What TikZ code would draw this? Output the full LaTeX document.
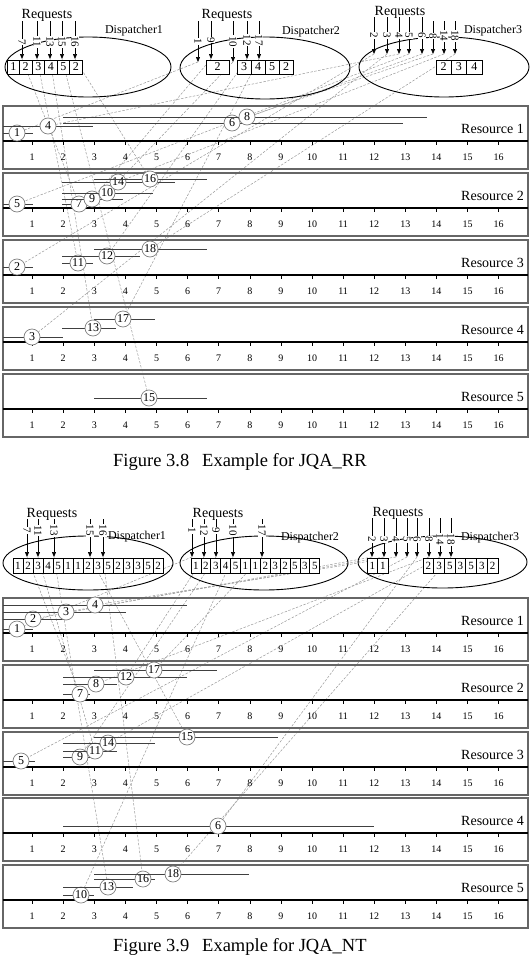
\documentclass[tikz,border=0pt]{standalone}
\usepackage{fontspec}
\setmainfont{Liberation Serif}
\usetikzlibrary{shapes.geometric,arrows.meta,backgrounds}

\begin{document}
\begin{tikzpicture}[
  x=1pt, y=-1pt,
  disp/.style={ellipse, draw=black, line width=0.9pt, inner sep=0pt},
  cell/.style={rectangle, draw=black, line width=0.7pt, fill=white,
               inner sep=0pt, minimum height=14pt, font=\fontsize{12}{12}\selectfont},
  req/.style={-{Triangle[length=5pt,width=4pt]}, line width=0.7pt},
  rlab/.style={fill=white, rotate=-90, inner sep=0.6pt, font=\fontsize{11}{11}\selectfont},
  job/.style={circle, draw=gray, line width=0.7pt, fill=white, inner sep=0pt,
              minimum size=16pt, font=\fontsize{12}{12}\selectfont},
  bar/.style={draw=black!75, line width=0.8pt},
  link/.style={draw=gray!80, dash pattern=on 2.5pt off 1.5pt, line width=0.5pt},
  panel/.style={draw=black!60, line width=1.1pt},
  tline/.style={line width=2.6pt},
  tnum/.style={font=\fontsize{10}{10}\selectfont, inner sep=0pt},
  res/.style={font=\fontsize{14}{14}\selectfont, inner sep=0pt, anchor=east},
  hdr/.style={font=\fontsize{14}{14}\selectfont, inner sep=0pt},
  dlab/.style={font=\fontsize{12}{12}\selectfont, inner sep=0pt},
  figcap/.style={font=\fontsize{18.5}{18.5}\selectfont, inner sep=0pt, anchor=west}
]
\useasboundingbox (0,0) rectangle (532,969);

% ---------- Figure 3.8 ----------
\node[disp, minimum width=166pt, minimum height=60pt] (d1) at (88,67) {};
\node[disp, minimum width=170pt, minimum height=62pt] (d2) at (265,68) {};
\node[disp, minimum width=170pt, minimum height=60pt] (d3) at (444,67) {};
\node[hdr] (h1) at (47,15) {Requests};
\node[hdr] (h2) at (227,15) {Requests};
\node[hdr] (h3) at (400,12) {Requests};
\node[dlab] (l1) at (134,31) {Dispatcher1};
\node[dlab] (l2) at (311,32) {Dispatcher2};
\node[dlab] (l3) at (493,31) {Dispatcher3};

\foreach \n/\x/\a/\b/\p in {7/22/21/59/0.55, 11/37/21/59/0.55, 13/50/21/59/0.55,
    15/62/21/59/0.55, 16/75/21/59/0.55,
    1/198/21/62/0.5, 9/211/21/59/0.5, 10/233/21/62/0.5, 12/247/21/59/0.5, 17/259/21/59/0.5,
    2/374/17/54/0.5, 3/387/17/54/0.5, 4/399/17/54/0.5, 5/409/17/54/0.5, 6/422/17/54/0.5,
    8/433/21/54/0.45, 14/444/21/54/0.45, 18/455/21/54/0.45}
{
  \coordinate (ra\n) at (\x,\b);
  \draw[req] (\x,\a) -- node[rlab, pos=\p] (na\n) {\n} (ra\n);
}

\foreach \v [count=\i] in {1,2,3,4,5,2}
  \node[cell, minimum width=12.5pt] (qa1-\i) at (0.75+12.5*\i,67) {\v};
\node[cell, minimum width=23pt] (qa2s) at (217.5,67) {2};
\foreach \v [count=\i] in {3,4,5,2}
  \node[cell, minimum width=14pt] (qa2-\i) at (230+14*\i,67) {\v};
\foreach \v [count=\i] in {2,3,4}
  \node[cell, minimum width=15.3pt] (qa3-\i) at (428.35+15.3*\i,67) {\v};

\foreach \ty [count=\k] in {106,173,240,307,374} {
  \draw[panel] (3,\ty) rectangle (528,\ty+63);
  \draw[tline] (3,\ty+35) -- (528,\ty+35);
  \foreach \t in {1,...,16} {
    \draw[line width=0.6pt] (1+31.1*\t,\ty+35) -- ++(0,4);
    \node[tnum] (ta\k-\t) at (1+31.1*\t,\ty+51) {\t};
  }
  \node[res] (ra-r\k) at (524,\ty+23) {Resource \k};
}

\foreach \n/\x/\y/\s/\e in {
    1/17/133/3/33, 4/48/126/3/93, 6/232/123/63/403, 8/247/117/63/427,
    5/17/204/3/33, 7/79/204/62/90, 9/92/199/62/123, 10/107/193/62/153,
    14/118/182/62/175, 16/150/179/94/207,
    2/17/267/3/33, 11/78/263/62/93, 12/107/256/62/140, 18/150/249/94/207,
    3/32/337/3/63, 13/93/328/62/116, 17/123/319/94/155,
    15/149/398/94/207}
{
  \draw[bar] (\s,\y) -- (\e,\y);
  \node[job] (a\n) at (\x,\y) {\n};
}

\node[figcap] (c1a) at (113,462) {Figure 3.8};
\node[figcap] (c1b) at (202,462) {Example for JQA\_RR};

% ---------- Figure 3.9 ----------
\node[disp, minimum width=170pt, minimum height=54pt] (d4) at (88,563) {};
\node[disp, minimum width=168pt, minimum height=54pt] (d5) at (264,563) {};
\node[disp, minimum width=169pt, minimum height=52pt] (d6) at (442.5,562) {};
\node[hdr] (h4) at (52,514) {Requests};
\node[hdr] (h5) at (218,514) {Requests};
\node[hdr] (h6) at (398,513) {Requests};
\node[dlab] (l4) at (137,537) {Dispatcher1};
\node[dlab] (l5) at (310,538) {Dispatcher2};
\node[dlab] (l6) at (490,538) {Dispatcher3};

\foreach \n/\x/\a/\b/\p in {7/27/519/557/0.3, 11/38/519/557/0.3, 13/54/519/557/0.3,
    15/90/519/557/0.3, 16/103/519/557/0.3,
    1/192/519/557/0.3, 12/204/519/557/0.3, 9/216/519/557/0.3, 10/233/519/557/0.3,
    17/262/519/557/0.3,
    2/372/518/557/0.55, 3/384/518/557/0.55, 4/396/518/557/0.55, 5/407/518/557/0.55,
    6/417/518/557/0.55, 8/429/518/557/0.55, 14/440/518/557/0.55, 18/451/518/557/0.55}
{
  \coordinate (rb\n) at (\x,\b);
  \draw[req] (\x,\a) -- node[rlab, pos=\p] (nb\n) {\n} (rb\n);
}

\foreach \v [count=\i] in {1,2,3,4,5,1,1,2,3,5,2,3,3,5,2}
  \node[cell, minimum width=10pt, minimum height=15pt, font=\fontsize{11}{11}\selectfont]
    (qb1-\i) at (8+10*\i,565.5) {\v};
\foreach \v [count=\i] in {1,2,3,4,5,1,1,2,3,2,5,3,5}
  \node[cell, minimum width=9.9pt, minimum height=15pt, font=\fontsize{11}{11}\selectfont]
    (qb2-\i) at (186.05+9.9*\i,565.5) {\v};
\foreach \v [count=\i] in {1,1}
  \node[cell, minimum width=10.5pt, minimum height=15pt, font=\fontsize{11}{11}\selectfont]
    (qb3s-\i) at (361.75+10.5*\i,565.5) {\v};
\foreach \v [count=\i] in {2,3,5,3,5,3,2}
  \node[cell, minimum width=10.7pt, minimum height=15pt, font=\fontsize{11}{11}\selectfont]
    (qb3-\i) at (417.65+10.7*\i,565.5) {\v};

\foreach \ty [count=\k] in {598,665,732,798,865} {
  \draw[panel] (3,\ty) rectangle (528,\ty+63);
  \draw[tline] (3,\ty+35) -- (528,\ty+35);
  \foreach \t in {1,...,16} {
    \draw[line width=0.6pt] (1+31.1*\t,\ty+35) -- ++(0,4);
    \node[tnum] (tb\k-\t) at (1+31.1*\t,\ty+51) {\t};
  }
  \node[res] (rb-r\k) at (524,\ty+23) {Resource \k};
}

\foreach \n/\x/\y/\s/\e in {
    1/17/629/3/33, 2/33/619/3/63, 3/66/612/3/126, 4/95/605/3/187,
    7/80/694/63/90, 8/96/684/63/117, 12/126/677/63/187, 17/154/670/94/217,
    5/21/761/3/35, 9/80/757/63/90, 11/95/751/63/117, 14/108/743/63/155,
    15/187/737/94/278,
    6/218/826/63/374,
    10/81/895/63/94, 13/108/887/63/133, 16/143/879/94/155, 18/173/874/94/249}
{
  \draw[bar] (\s,\y) -- (\e,\y);
  \node[job] (b\n) at (\x,\y) {\n};
}

\node[figcap] (c2a) at (113,947) {Figure 3.9};
\node[figcap] (c2b) at (202,947) {Example for JQA\_NT};

% dashed assignment links
\begin{scope}[on background layer]
\foreach \n in {1,...,18} {
  \draw[link] (ra\n) -- (a\n);
  \draw[link] (rb\n) -- (b\n);
}
\end{scope}
\end{tikzpicture}
\end{document}
